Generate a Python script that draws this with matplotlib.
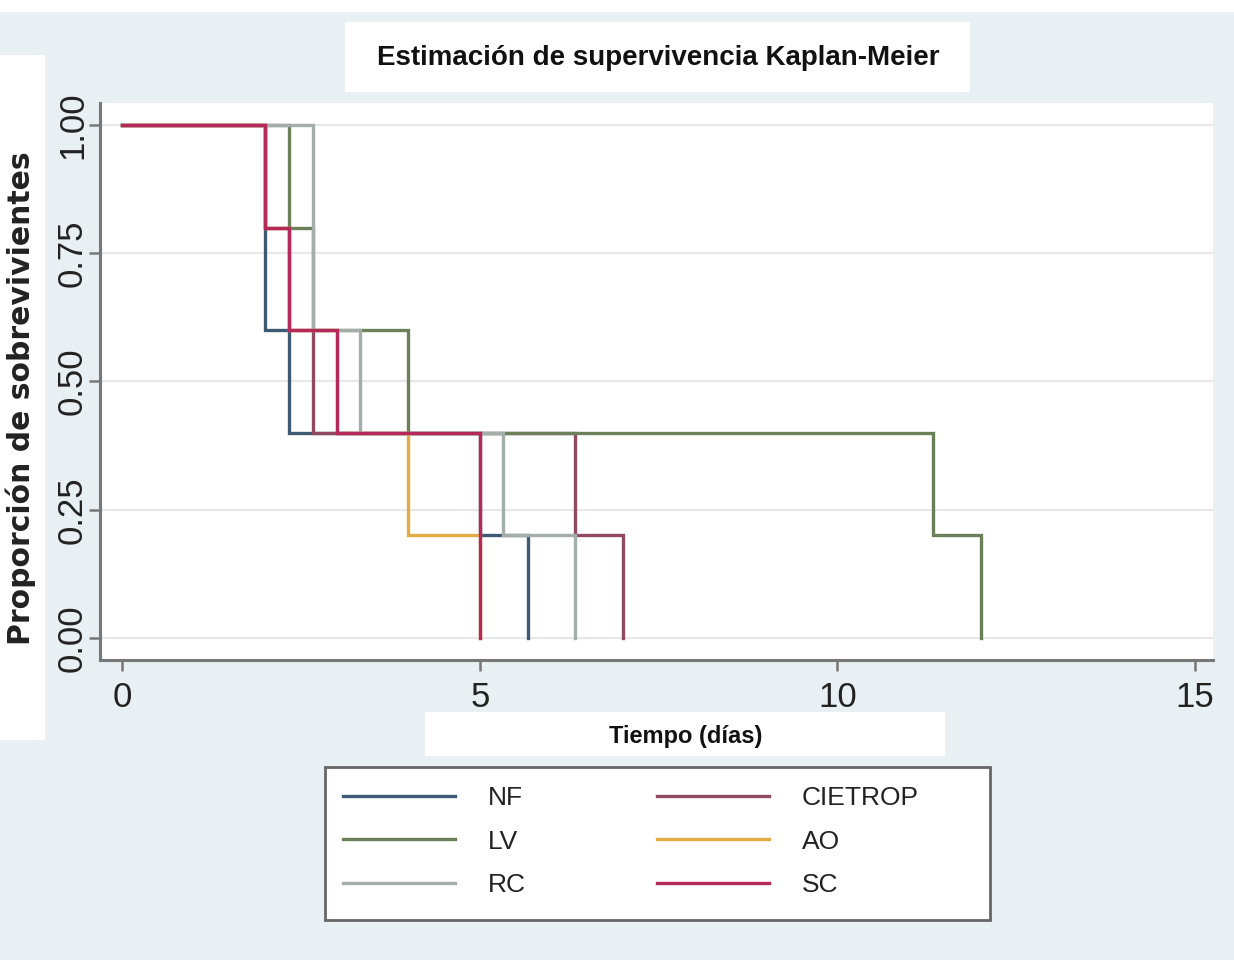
import matplotlib
matplotlib.use("Agg")
import matplotlib.pyplot as plt
from matplotlib.patches import Rectangle

# Kaplan-Meier estimates (time in days)
groups = ['NF', 'LV', 'RC', 'CIETROP', 'AO', 'SC']
times = {
    'NF': [0, 2.0, 2.33, 5.0, 5.67],
    'LV': [0, 2.33, 2.67, 4.0, 11.33, 12.0],
    'RC': [0, 2.67, 3.33, 5.33, 6.33],
    'CIETROP': [0, 2.0, 2.33, 2.67, 6.33, 7.0],
    'AO': [0, 2.0, 2.33, 3.0, 4.0, 5.0],
    'SC': [0, 2.0, 2.33, 3.0, 5.0],
}
surv = {
    'NF': [1.0, 0.6, 0.4, 0.2, 0.0],
    'LV': [1.0, 0.8, 0.6, 0.4, 0.2, 0.0],
    'RC': [1.0, 0.6, 0.4, 0.2, 0.0],
    'CIETROP': [1.0, 0.8, 0.6, 0.4, 0.2, 0.0],
    'AO': [1.0, 0.8, 0.6, 0.4, 0.2, 0.0],
    'SC': [1.0, 0.8, 0.6, 0.4, 0.0],
}
colors = {
    'NF': '#3d5a72',
    'LV': '#6b7f58',
    'RC': '#a3ada9',
    'CIETROP': '#8f4a62',
    'AO': '#e3aa45',
    'SC': '#b5285a',
}
draw_order = ['NF', 'CIETROP', 'LV', 'RC', 'AO', 'SC']

xticks = [0, 5, 10, 15]
yticks = [0, 0.25, 0.5, 0.75, 1.0]
ytick_labels = ['0.00', '0.25', '0.50', '0.75', '1.00']

sans = ['Liberation Sans', 'DejaVu Sans']
bg = '#e9f0f3'
W, H = 1234, 960
fig = plt.figure(figsize=(W / 100, H / 100), dpi=100, facecolor=bg)

def px_rect(x0, y0, x1, y1, edge='none', lw=0):
    # patch given in pixel coords (top-left origin)
    fig.patches.append(Rectangle((x0 / W, 1 - y1 / H), (x1 - x0) / W, (y1 - y0) / H,
                                 transform=fig.transFigure, facecolor='white',
                                 edgecolor=edge, lw=lw, zorder=0))

px_rect(0, 0, W, 12)
px_rect(0, 55, 45, 740)
px_rect(345, 22, 970, 92)
px_rect(425, 712, 945, 756)
px_rect(325, 767, 990, 920, edge='#666666', lw=2.0)   # legend frame

ax = fig.add_axes([100 / W, 1 - 660 / H, (1213 - 100) / W, (660 - 103) / H])
ax.set_facecolor('white')

lines = {}
for i, g in enumerate(draw_order):
    ln, = ax.plot(times[g], surv[g], drawstyle='steps-post', color=colors[g],
                  lw=2.4, zorder=3 + i, solid_joinstyle='miter')
    lines[g] = ln

ax.set_xlim(-0.31, 15.25)
ax.set_ylim(-0.043, 1.043)
ax.set_xticks(xticks)
ax.set_yticks(yticks)
ax.set_yticklabels(ytick_labels, rotation=90, va='center')
ax.grid(axis='y', color='#e8e8e8', lw=1.6)
ax.set_axisbelow(True)

for s in ['top', 'right']:
    ax.spines[s].set_visible(False)
for s in ['left', 'bottom']:
    ax.spines[s].set_color('#777777')
    ax.spines[s].set_linewidth(2.2)

ax.tick_params(axis='both', length=8, width=1.8, color='#777777',
               labelsize=25, labelcolor='#222222')
ax.tick_params(axis='y', pad=0)
ax.tick_params(axis='x', pad=7)
for lab in ax.get_xticklabels() + ax.get_yticklabels():
    lab.set_family(sans)

fig.text(21 / W, 1 - 398 / H, 'Proporción de sobrevivientes', rotation=90,
         ha='center', va='center', fontsize=21.5, fontweight='bold',
         family=['DejaVu Sans'], color='#222222')

fig.text(658 / W, 1 - 58 / H, 'Estimación de supervivencia Kaplan-Meier',
         ha='center', va='center', fontsize=20, fontweight='bold',
         family=sans, color='#111111')
fig.text(686 / W, 1 - 736 / H, 'Tiempo (días)',
         ha='center', va='center', fontsize=17, fontweight='bold',
         family=sans, color='#111111')

handles = [lines[g] for g in groups]
leg = fig.legend(handles, groups, ncol=2, loc='upper left',
                 bbox_to_anchor=(343 / W, 1 - 786 / H),
                 handlelength=4.25, handletextpad=1.25,
                 columnspacing=4.95, labelspacing=0.74, borderpad=0,
                 borderaxespad=0, frameon=False,
                 prop={'family': sans, 'size': 19})
for t in leg.get_texts():
    t.set_color('#222222')

fig.savefig('out.png', dpi=100, facecolor=bg)
